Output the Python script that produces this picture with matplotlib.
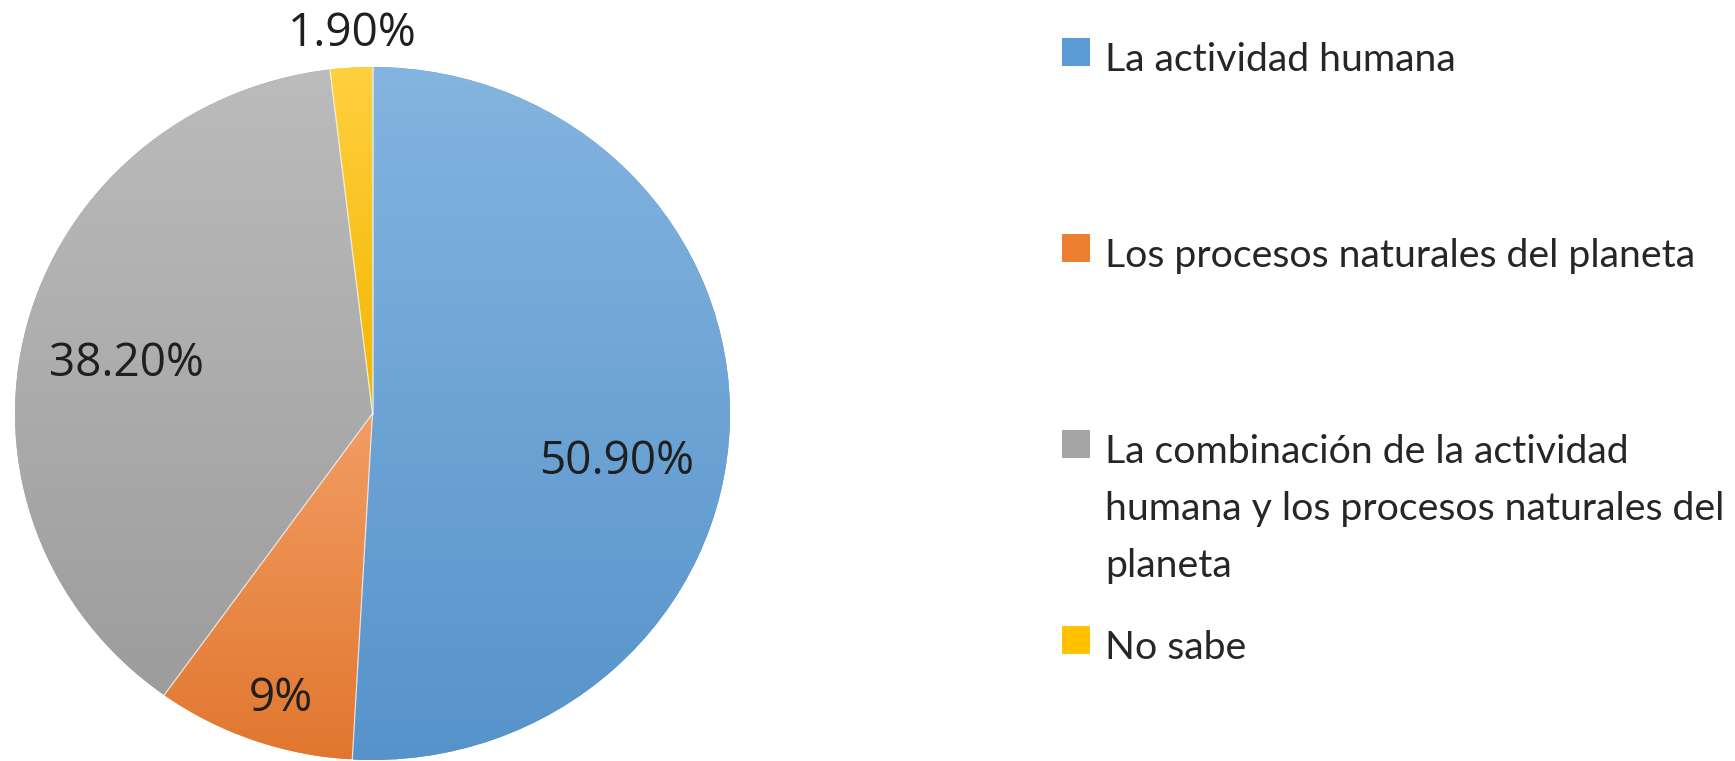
import matplotlib
matplotlib.use("Agg")
import matplotlib.pyplot as plt
import numpy as np
from matplotlib.patches import Rectangle
from matplotlib.colors import to_rgb, LinearSegmentedColormap

categories = ["La actividad humana",
              "Los procesos naturales del planeta",
              "La combinación de la actividad\nhumana y los procesos naturales del\nplaneta",
              "No sabe"]
values = [50.9, 9.0, 38.2, 1.9]
value_labels = ["50.90%", "9%", "38.20%", "1.90%"]
colors = ["#5b9bd5", "#ed7d31", "#a5a5a5", "#ffc000"]

# label placement (distance from centre as fraction of radius, angle shift deg)
label_dist = [0.695, 0.85, 0.705, 1.11]
label_shift = [-8.9, 1.9, 1.6, -0.5]

W, H, DPI = 1735, 761, 100
fig = plt.figure(figsize=(W / DPI, H / DPI), dpi=DPI)
fig.patch.set_facecolor("white")

# pie axes in pixel layout
px_l, px_r, px_t, px_b = 15, 730, 67, 760
ax = fig.add_axes([px_l / W, (H - px_b) / H, (px_r - px_l) / W, (px_b - px_t) / H])
wedges, _ = ax.pie(values, colors=colors, startangle=90, counterclock=False,
                   radius=1.0, wedgeprops=dict(linewidth=0))
ax.set_xlim(-1, 1)
ax.set_ylim(-1, 1)
ax.set_aspect("auto")
ax.axis("off")


def lighten(c, f):
    r = np.array(to_rgb(c))
    return tuple(r + (1 - r) * f)


def darken(c, f):
    r = np.array(to_rgb(c))
    return tuple(r * f)


for w, c in zip(wedges, colors):
    ext = w.get_path().get_extents()
    y0, y1 = max(ext.y0, -1), min(ext.y1, 1)
    cmap = LinearSegmentedColormap.from_list("g", [darken(c, 0.95), lighten(c, 0.25)])
    grad = np.linspace(0, 1, 256).reshape(-1, 1)
    im = ax.imshow(grad, cmap=cmap, origin="lower", aspect="auto",
                   extent=[-1, 1, y0, y1], zorder=2, interpolation="bilinear")
    im.set_clip_path(w)
    ax.set_xlim(-1, 1)
    ax.set_ylim(-1, 1)

# thin light separators
for w in wedges:
    for t in np.deg2rad([w.theta1, w.theta2]):
        ax.plot([0, np.cos(t)], [0, np.sin(t)], color="white", lw=0.8, alpha=0.5, zorder=3)

lab_fs = 33
for w, lab, d, s in zip(wedges, value_labels, label_dist, label_shift):
    mid = np.deg2rad((w.theta1 + w.theta2) / 2 + s)
    ax.annotate(lab, (d * np.cos(mid), d * np.sin(mid)), xytext=(0, -0.357 * lab_fs),
                textcoords="offset points", ha="center", va="baseline",
                fontsize=lab_fs, family=["Open Sans", "DejaVu Sans"], color="#1f1f1f",
                zorder=5, annotation_clip=False)

# legend (manual, Excel-like layout)
leg_x_sq = 1062
sq = 28
leg_x_txt = 1105
first_center = 52
step = 196
line_h = 57
base_off = 19
legend_font = ["Lato", "DejaVu Sans"]
target_w = 590  # px width of "Los procesos naturales del planeta"

renderer = fig.canvas.get_renderer()
probe = fig.text(0, 0, categories[1], fontsize=30, family=legend_font)
pw = probe.get_window_extent(renderer).width
probe.remove()
leg_fs = 30 * target_w / pw

for i, (cat, c) in enumerate(zip(categories, colors)):
    cy = first_center + i * step
    fig.patches.append(Rectangle((leg_x_sq / W, (H - cy - sq / 2) / H), sq / W, sq / H,
                                 transform=fig.transFigure, facecolor=c,
                                 edgecolor="none"))
    for k, line in enumerate(cat.split("\n")):
        fig.text(leg_x_txt / W, (H - cy - base_off - k * line_h) / H, line,
                 ha="left", va="baseline", fontsize=leg_fs, family=legend_font,
                 color="#262626")

fig.savefig("out.png", dpi=DPI, facecolor="white")
